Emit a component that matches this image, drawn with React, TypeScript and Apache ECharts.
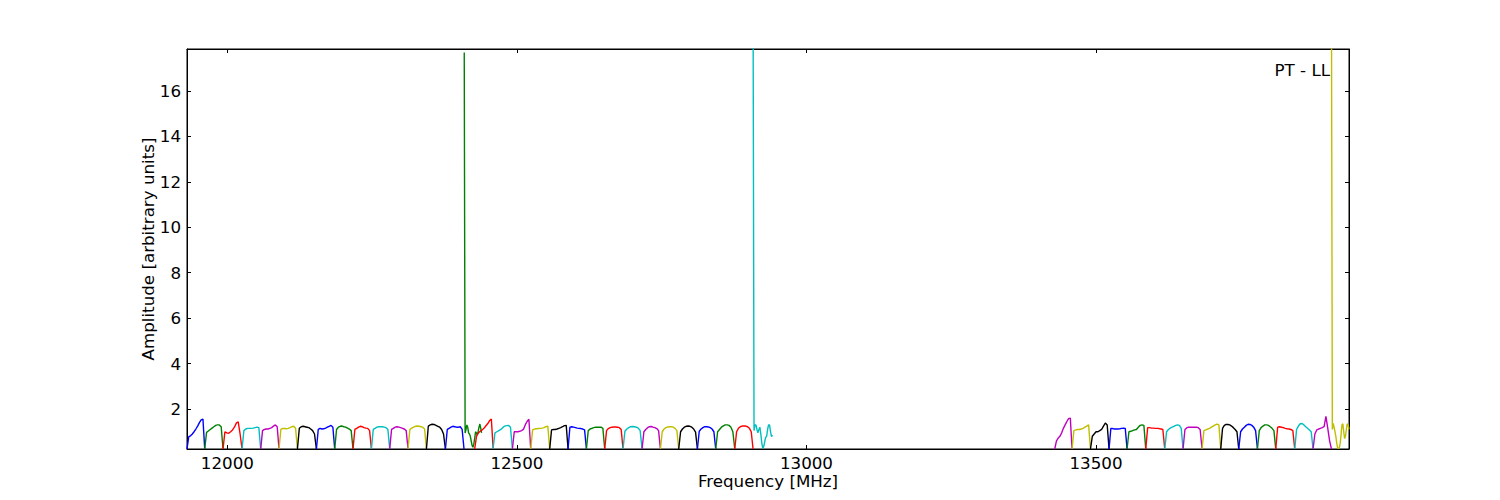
import React, { useEffect, useRef } from "react";
import * as echarts from "echarts";

const X_MIN = 11930.2;
const X_MAX = 13937;
const Y_MIN = 0.24;
const Y_MAX = 17.85;

const xTickValues = [12000, 12500, 13000, 13500];
const yTickValues = [2, 4, 6, 8, 10, 12, 14, 16];

const lineColors = ["#0000ff", "#008000", "#ff0000", "#00bfbf", "#bf00bf", "#bfbf00", "#000000"];

const panelLabel = "PT - LL";
const xAxisTitle = "Frequency [MHz]";
const yAxisTitle = "Amplitude [arbitrary units]";

// channel frequency spans (MHz)
const channelStarts = [
  11930.2, 11960.8, 11992.4, 12025.2, 12057.5, 12089.1, 12120.9, 12153.7,
  12185.3, 12216.9, 12248.7, 12280.3, 12311.9, 12343.7, 12376.5, 12409.0,
  12427.0, 12458.7, 12492.2, 12523.8, 12556.6, 12588.3, 12620.0, 12651.6,
  12683.2, 12716.1, 12747.8, 12779.4, 12811.7, 12843.3, 12876.2, 12907.8,
  13428.8, 13458.7, 13490.5, 13522.6, 13553.7, 13586.0, 13618.8, 13650.4,
  13683.2, 13715.5, 13746.6, 13778.9, 13810.5, 13843.3, 13874.9, 13906.7,
];
const channelEnds = [
  11960.8, 11992.4, 12025.2, 12057.5, 12089.1, 12120.9, 12153.7, 12185.3,
  12216.9, 12248.7, 12280.3, 12311.9, 12343.7, 12376.5, 12408.6, 12439.0,
  12459.0, 12492.2, 12523.8, 12556.6, 12588.3, 12620.0, 12651.6, 12683.2,
  12716.1, 12747.8, 12779.4, 12811.7, 12843.3, 12876.2, 12907.8, 12941.3,
  13458.7, 13490.5, 13522.6, 13553.7, 13586.0, 13618.8, 13650.4, 13683.2,
  13715.5, 13746.6, 13778.9, 13810.5, 13843.3, 13874.9, 13906.7, 13937.0,
];

// amplitude samples per channel (evenly spaced across each channel span)
const channelValues: number[][] = [
  [0.24, 0.78, 0.82, 0.9, 1.0, 1.12, 1.25, 1.4, 1.52, 1.56, 0.24],
  [0.24, 0.97, 1.03, 1.1, 1.16, 1.22, 1.28, 1.3, 1.3, 1.22, 0.24],
  [0.24, 1.0, 0.95, 0.93, 1.0, 1.08, 1.2, 1.38, 1.44, 0.9, 0.24],
  [0.24, 1.05, 1.12, 1.15, 1.15, 1.15, 1.16, 1.18, 1.2, 1.18, 0.24],
  [0.24, 1.05, 1.1, 1.12, 1.12, 1.15, 1.18, 1.25, 1.3, 1.22, 0.24],
  [0.24, 1.1, 1.15, 1.14, 1.13, 1.15, 1.18, 1.22, 1.24, 1.15, 0.24],
  [0.24, 1.15, 1.22, 1.24, 1.22, 1.2, 1.18, 1.12, 1.05, 0.9, 0.24],
  [0.24, 1.1, 1.15, 1.12, 1.13, 1.16, 1.2, 1.24, 1.28, 1.2, 0.24],
  [0.24, 1.1, 1.2, 1.24, 1.25, 1.22, 1.2, 1.16, 1.12, 1.05, 0.24],
  [0.24, 1.1, 1.15, 1.2, 1.24, 1.22, 1.18, 1.16, 1.15, 1.05, 0.24],
  [0.24, 1.1, 1.15, 1.2, 1.22, 1.22, 1.22, 1.2, 1.18, 1.1, 0.24],
  [0.24, 1.1, 1.15, 1.2, 1.22, 1.2, 1.18, 1.15, 1.12, 1.05, 0.24],
  [0.24, 1.1, 1.16, 1.2, 1.24, 1.25, 1.24, 1.22, 1.2, 1.12, 0.24],
  [0.24, 1.25, 1.3, 1.33, 1.32, 1.28, 1.24, 1.2, 1.1, 0.9, 0.24],
  [0.24, 1.1, 1.15, 1.2, 1.24, 1.22, 1.2, 1.2, 1.22, 1.1, 0.24],
  [17.7, 0.94, 1.1, 1.3, 1.2, 0.95, 0.9, 0.8, 0.6, 0.4, 0.32, 0.45, 0.7, 1.0, 0.95, 0.85, 1.0, 1.2, 1.34, 1.15, 0.95],
  [0.24, 0.8, 0.95, 1.02, 1.08, 1.15, 1.25, 1.35, 1.48, 1.56, 0.24],
  [0.24, 0.95, 1.0, 1.05, 1.1, 1.18, 1.25, 1.27, 1.28, 1.2, 0.24],
  [0.24, 1.0, 1.0, 1.0, 1.02, 1.05, 1.1, 1.3, 1.45, 1.55, 0.24],
  [0.24, 1.08, 1.12, 1.13, 1.14, 1.15, 1.16, 1.18, 1.22, 1.25, 0.24],
  [0.24, 1.08, 1.1, 1.1, 1.12, 1.15, 1.18, 1.22, 1.27, 1.28, 0.24],
  [0.24, 1.2, 1.22, 1.2, 1.18, 1.16, 1.15, 1.14, 1.12, 1.08, 0.24],
  [0.24, 1.05, 1.12, 1.15, 1.18, 1.2, 1.2, 1.2, 1.2, 1.15, 0.24],
  [0.24, 1.05, 1.14, 1.18, 1.2, 1.21, 1.21, 1.2, 1.18, 1.1, 0.24],
  [0.24, 1.02, 1.12, 1.18, 1.22, 1.23, 1.22, 1.2, 1.16, 1.05, 0.24],
  [0.24, 1.0, 1.1, 1.18, 1.22, 1.23, 1.2, 1.18, 1.14, 1.05, 0.24],
  [0.24, 1.0, 1.12, 1.18, 1.21, 1.22, 1.22, 1.2, 1.15, 1.05, 0.24],
  [0.24, 1.0, 1.12, 1.2, 1.24, 1.25, 1.24, 1.2, 1.12, 0.98, 0.24],
  [0.24, 1.02, 1.12, 1.18, 1.22, 1.22, 1.21, 1.18, 1.12, 1.0, 0.24],
  [0.24, 1.0, 1.1, 1.2, 1.26, 1.3, 1.3, 1.28, 1.2, 1.0, 0.24],
  [0.24, 1.0, 1.15, 1.22, 1.25, 1.26, 1.25, 1.22, 1.15, 1.0, 0.24],
  [20, 1.05, 1.3, 1.3, 1.1, 0.95, 1.1, 1.2, 0.9, 0.5, 0.28, 0.35, 0.55, 0.75, 0.8, 1.1, 1.3, 1.3, 1.0, 0.78, 0.85],
  [0.24, 0.6, 0.72, 0.8, 0.95, 1.15, 1.3, 1.45, 1.58, 1.6, 0.24],
  [0.24, 1.05, 1.08, 1.1, 1.1, 1.12, 1.15, 1.2, 1.25, 1.3, 0.24],
  [0.24, 0.8, 0.9, 1.0, 1.0, 1.05, 1.1, 1.25, 1.38, 1.3, 0.24],
  [0.24, 1.15, 1.14, 1.12, 1.12, 1.12, 1.13, 1.15, 1.16, 1.15, 0.24],
  [0.24, 1.0, 1.02, 1.05, 1.08, 1.1, 1.2, 1.28, 1.3, 1.28, 0.24],
  [0.24, 1.18, 1.18, 1.16, 1.16, 1.15, 1.15, 1.14, 1.12, 1.1, 0.24],
  [0.24, 1.0, 1.1, 1.16, 1.2, 1.24, 1.28, 1.3, 1.28, 1.15, 0.24],
  [0.24, 1.1, 1.18, 1.2, 1.2, 1.2, 1.2, 1.2, 1.18, 1.1, 0.24],
  [0.24, 1.05, 1.08, 1.12, 1.15, 1.2, 1.25, 1.3, 1.34, 1.3, 0.24],
  [0.24, 1.15, 1.28, 1.32, 1.32, 1.3, 1.25, 1.18, 1.1, 1.0, 0.24],
  [0.24, 1.0, 1.12, 1.2, 1.28, 1.33, 1.32, 1.28, 1.2, 1.05, 0.24],
  [0.24, 1.05, 1.18, 1.25, 1.3, 1.3, 1.28, 1.22, 1.15, 1.05, 0.24],
  [0.24, 1.2, 1.22, 1.2, 1.18, 1.15, 1.13, 1.12, 1.1, 1.05, 0.24],
  [0.24, 1.1, 1.25, 1.35, 1.36, 1.3, 1.22, 1.15, 1.08, 1.0, 0.24],
  [0.24, 0.9, 1.08, 1.12, 1.15, 1.18, 1.22, 1.68, 1.15, 0.6, 0.24],
  [20, 1.1, 1.37, 1.2, 1.0, 0.8, 0.5, 0.3, 0.26, 0.3, 0.5, 0.9, 1.3, 1.35, 1.0, 0.7, 0.8, 1.1, 1.35, 1.3, 1.1],
];

const FONT = "DejaVu Sans";
const FS = 16.7;

export default function App() {
  const ref = useRef<HTMLDivElement>(null);
  useEffect(() => {
    const chart = echarts.init(ref.current!, null, { renderer: "svg" });
    const series = channelValues.map((vals, k) => {
      const f0 = channelStarts[k];
      const f1 = channelEnds[k];
      const n = vals.length;
      const color = lineColors[k % lineColors.length];
      return {
        type: "line",
        xAxisIndex: 0,
        yAxisIndex: 0,
        data: vals.map((v, i) => [f0 + ((f1 - f0) * i) / (n - 1), v]),
        showSymbol: false,
        symbol: "none",
        clip: true,
        silent: true,
        lineStyle: { width: 1.4, color },
        itemStyle: { color },
      };
    });
    const tickStyle = { inside: true, length: 4, lineStyle: { color: "#000", width: 1 } };
    const plainNumber = (v: number) => String(Math.round(v));
    chart.setOption({
      animation: false,
      backgroundColor: "#ffffff",
      grid: {
        left: 187,
        right: 151,
        top: 49,
        bottom: 51,
        show: true,
        borderColor: "#000",
        borderWidth: 1,
        containLabel: false,
      },
      graphic: [
        {
          type: "text",
          right: 170,
          top: 61,
          style: {
            text: panelLabel,
            font: `${FS}px ${FONT}`,
            fill: "#000",
            textAlign: "right",
          },
        },
      ],
      xAxis: [
        {
          type: "value",
          min: X_MIN,
          max: X_MAX,
          position: "bottom",
          name: xAxisTitle,
          nameLocation: "middle",
          nameGap: 23,
          nameMoveOverlap: false,
          nameTextStyle: { fontFamily: FONT, fontSize: FS, color: "#000" },
          axisLine: { show: true, lineStyle: { color: "#000", width: 1 } },
          axisTick: { show: true, ...tickStyle, customValues: xTickValues },
          axisLabel: {
            show: true,
            customValues: xTickValues,
            formatter: plainNumber,
            fontFamily: FONT,
            fontSize: FS,
            color: "#000",
            margin: 5,
          },
          splitLine: { show: false },
        },
        {
          type: "value",
          min: X_MIN,
          max: X_MAX,
          position: "top",
          axisLine: { show: true, lineStyle: { color: "#000", width: 1 } },
          axisTick: { show: true, ...tickStyle, customValues: xTickValues },
          axisLabel: { show: false },
          splitLine: { show: false },
        },
      ],
      yAxis: [
        {
          type: "value",
          min: Y_MIN,
          max: Y_MAX,
          position: "left",
          name: yAxisTitle,
          nameLocation: "middle",
          nameGap: 31,
          nameMoveOverlap: false,
          nameTextStyle: { fontFamily: FONT, fontSize: FS, color: "#000" },
          axisLine: { show: true, lineStyle: { color: "#000", width: 1 } },
          axisTick: { show: true, ...tickStyle, customValues: yTickValues },
          axisLabel: {
            show: true,
            customValues: yTickValues,
            formatter: plainNumber,
            fontFamily: FONT,
            fontSize: FS,
            color: "#000",
            margin: 6,
          },
          splitLine: { show: false },
        },
        {
          type: "value",
          min: Y_MIN,
          max: Y_MAX,
          position: "right",
          axisLine: { show: true, lineStyle: { color: "#000", width: 1 } },
          axisTick: { show: true, ...tickStyle, customValues: yTickValues },
          axisLabel: { show: false },
          splitLine: { show: false },
        },
      ],
      series,
    });
    return () => chart.dispose();
  }, []);
  return (
    <div
      ref={ref}
      style={{ position: "fixed", left: 0, top: 0, width: 1500, height: 500, background: "#fff" }}
    />
  );
}
